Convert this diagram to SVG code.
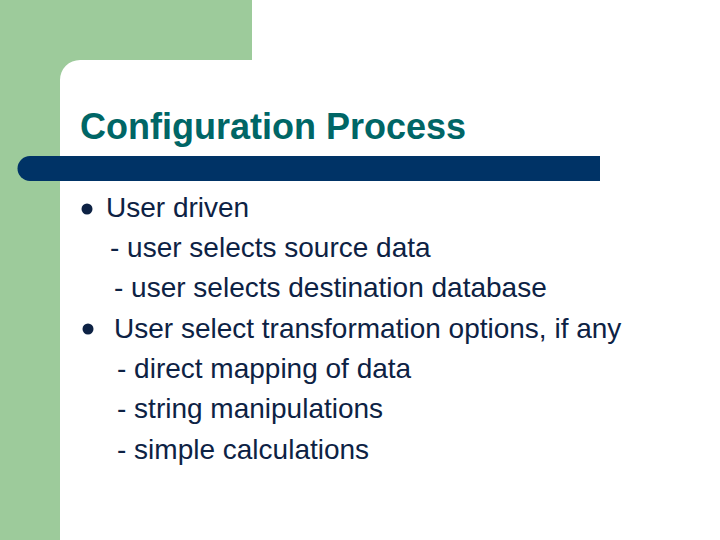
<svg xmlns="http://www.w3.org/2000/svg" width="720" height="540" viewBox="0 0 720 540">
<style>
.t{font-family:"Liberation Sans",Arial,sans-serif;font-size:28px;fill:#0d2244}
.h{font-family:"Liberation Sans",Arial,sans-serif;font-size:36px;font-weight:bold;fill:#006666}
.b{fill:#0d2244}
</style>
<rect width="720" height="540" fill="#ffffff"/>
<path d="M0 0H252V60H80A20 20 0 0 0 60 80V540H0Z" fill="#9dcb9b"/>
<text class="h" x="80" y="139">Configuration Process</text>
<path d="M30 156H600V181H30A12.5 12.5 0 0 1 30 156Z" fill="#003366"/>
<circle class="b" cx="87" cy="209" r="5.5"/>
<circle class="b" cx="88" cy="329" r="5.5"/>
<text class="t" x="106" y="217">User driven</text>
<text class="t" x="110" y="257">- user selects source data</text>
<text class="t" x="114" y="297">- user selects destination database</text>
<text class="t" x="114" y="338">User select transformation options, if any</text>
<text class="t" x="117" y="378">- direct mapping of data</text>
<text class="t" x="117" y="418">- string manipulations</text>
<text class="t" x="117" y="459">- simple calculations</text>
</svg>
